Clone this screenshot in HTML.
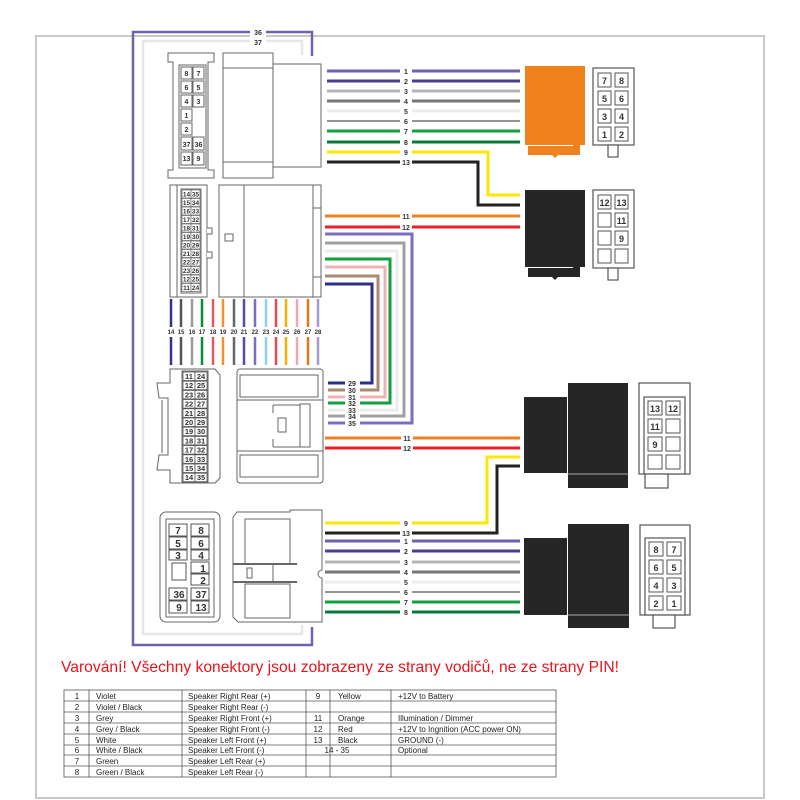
<!DOCTYPE html>
<html><head><meta charset="utf-8"><style>
html,body{margin:0;padding:0;background:#fff}
svg{display:block}
text{font-family:"Liberation Sans",Arial,sans-serif}
.n{font-size:7px;font-weight:bold;fill:#333;text-anchor:middle}
.c{font-size:7px;font-weight:bold;fill:#333;text-anchor:middle}
.p{font-size:9px;font-weight:bold;fill:#333;text-anchor:middle}
.t{font-size:8px;fill:#222}
</style></head><body>
<svg width="800" height="800" viewBox="0 0 800 800" xmlns="http://www.w3.org/2000/svg">
<rect x="36" y="36" width="728" height="762" fill="#fff" stroke="#c8c8c8" stroke-width="2"/>

<!-- outer loops 36/37 -->
<polyline points="312,56 312,32 133,32 133,645 312,645 312,627" fill="none" stroke="#6e62b0" stroke-width="2.5"/>
<polyline points="302,55 302,41 143,41 143,634 302,634 302,625" fill="none" stroke="#e6e6e6" stroke-width="2.5"/>
<rect x="250" y="26" width="16" height="20" fill="#fff"/>
<text x="258" y="35" class="n">36</text>
<text x="258" y="45" class="n">37</text>

<g fill="#fff" stroke="#666" stroke-width="1">
<path d="M168,53 H214 V62 H208 V170 H214 V178 H168 V170 H173 V62 H168 Z"/>
<rect x="179" y="65" width="27" height="103"/>
<rect x="223" y="53" width="50" height="125"/>
<line x1="223" y1="68" x2="273" y2="68"/><line x1="223" y1="162" x2="273" y2="162"/>
<rect x="273" y="64" width="48" height="103"/>
<rect x="170" y="185" width="37" height="112"/>
<line x1="177" y1="185" x2="177" y2="297"/>
<rect x="181" y="189" width="20" height="104"/>
<path d="M207,228 H212 V234 H207 M207,252 H212 V258 H207"/>
<rect x="219" y="185" width="102" height="112"/>
<line x1="244" y1="185" x2="244" y2="297"/>
<rect x="313" y="185" width="8" height="112"/>
<line x1="313" y1="208" x2="321" y2="208"/><line x1="313" y1="277" x2="321" y2="277"/>
<rect x="225" y="234" width="8" height="7"/>
<path d="M170,369 H215 L220,375 V478 L215,483 H170 V470 H157 L159,455 H168 V398 H159 L157,383 H170 Z"/>
<line x1="162" y1="400" x2="162" y2="453"/>
<rect x="182" y="371" width="26" height="111"/>
<rect x="237" y="369" width="86" height="114" rx="3"/>
<rect x="240" y="375" width="78" height="22"/>
<rect x="240" y="455" width="78" height="22"/>
<line x1="237" y1="400" x2="323" y2="400"/><line x1="237" y1="451" x2="323" y2="451"/>
<rect x="300" y="404" width="10" height="43"/>
<rect x="278" y="418" width="8" height="14"/>
<path d="M273,405 H300 M273,447 H300 M273,405 V413 M273,447 V439"/>
<rect x="160" y="512" width="60" height="110" rx="6"/>
<rect x="166" y="519" width="48" height="98"/>
<path d="M233,517 L237,512 H290 V510 H322 V570 A4,4 0 0 0 322,578 V622 H238 L233,617 Z"/>
<rect x="245" y="519" width="45" height="45"/>
<rect x="245" y="584" width="45" height="34"/>
<line x1="233" y1="564" x2="297" y2="564" stroke-width="2"/>
<line x1="233" y1="582" x2="297" y2="582" stroke-width="2"/>
<line x1="273" y1="564" x2="273" y2="582"/>
<rect x="247" y="568" width="5" height="10"/>
</g>

<g fill="#fff" stroke="#666" stroke-width="1">
<rect x="181" y="67" width="11" height="12"/><rect x="193" y="67" width="11" height="12"/>
<rect x="181" y="81" width="11" height="12"/><rect x="193" y="81" width="11" height="12"/>
<rect x="181" y="95" width="11" height="12"/><rect x="193" y="95" width="11" height="12"/>
<rect x="181" y="109" width="11" height="12"/>
<rect x="181" y="123" width="11" height="12"/>
<rect x="181" y="137" width="11" height="13"/><rect x="193" y="137" width="11" height="13"/>
<rect x="181" y="152" width="11" height="13"/><rect x="193" y="152" width="11" height="13"/>
</g>
<g class="c">
<text x="186.5" y="76" class="c">8</text><text x="198.5" y="76" class="c">7</text>
<text x="186.5" y="90" class="c">6</text><text x="198.5" y="90" class="c">5</text>
<text x="186.5" y="104" class="c">4</text><text x="198.5" y="104" class="c">3</text>
<text x="186.5" y="118" class="c">1</text>
<text x="186.5" y="132" class="c">2</text>
<text x="186.5" y="147" class="c">37</text><text x="198.5" y="147" class="c">36</text>
<text x="186.5" y="161" class="c">13</text><text x="198.5" y="161" class="c">9</text>
</g>

<g font-size="6.5" font-weight="bold" fill="#333" text-anchor="middle">
<g stroke="#666" fill="#fff" stroke-width="0.7">
<rect x="182" y="190" width="9" height="8"/><rect x="191" y="190" width="9" height="8"/>
<rect x="182" y="198.5" width="9" height="8"/><rect x="191" y="198.5" width="9" height="8"/>
<rect x="182" y="207" width="9" height="8"/><rect x="191" y="207" width="9" height="8"/>
<rect x="182" y="215.5" width="9" height="8"/><rect x="191" y="215.5" width="9" height="8"/>
<rect x="182" y="224" width="9" height="8"/><rect x="191" y="224" width="9" height="8"/>
<rect x="182" y="232.5" width="9" height="8"/><rect x="191" y="232.5" width="9" height="8"/>
<rect x="182" y="241" width="9" height="8"/><rect x="191" y="241" width="9" height="8"/>
<rect x="182" y="249.5" width="9" height="8"/><rect x="191" y="249.5" width="9" height="8"/>
<rect x="182" y="258" width="9" height="8"/><rect x="191" y="258" width="9" height="8"/>
<rect x="182" y="266.5" width="9" height="8"/><rect x="191" y="266.5" width="9" height="8"/>
<rect x="182" y="275" width="9" height="8"/><rect x="191" y="275" width="9" height="8"/>
<rect x="182" y="283.5" width="9" height="8"/><rect x="191" y="283.5" width="9" height="8"/>
</g>
<text x="186.5" y="196.5">14</text><text x="195.5" y="196.5">35</text>
<text x="186.5" y="205">15</text><text x="195.5" y="205">34</text>
<text x="186.5" y="213.5">16</text><text x="195.5" y="213.5">33</text>
<text x="186.5" y="222">17</text><text x="195.5" y="222">32</text>
<text x="186.5" y="230.5">18</text><text x="195.5" y="230.5">31</text>
<text x="186.5" y="239">19</text><text x="195.5" y="239">30</text>
<text x="186.5" y="247.5">20</text><text x="195.5" y="247.5">29</text>
<text x="186.5" y="256">21</text><text x="195.5" y="256">28</text>
<text x="186.5" y="264.5">22</text><text x="195.5" y="264.5">27</text>
<text x="186.5" y="273">23</text><text x="195.5" y="273">26</text>
<text x="186.5" y="281.5">12</text><text x="195.5" y="281.5">25</text>
<text x="186.5" y="290">11</text><text x="195.5" y="290">24</text>
</g>

<g font-size="7.5" font-weight="bold" fill="#333" text-anchor="middle">
<g stroke="#555" fill="#fff" stroke-width="0.8">
<rect x="183" y="372" width="12" height="8.5"/><rect x="195" y="372" width="12" height="8.5"/>
<rect x="183" y="381.2" width="12" height="8.5"/><rect x="195" y="381.2" width="12" height="8.5"/>
<rect x="183" y="390.4" width="12" height="8.5"/><rect x="195" y="390.4" width="12" height="8.5"/>
<rect x="183" y="399.6" width="12" height="8.5"/><rect x="195" y="399.6" width="12" height="8.5"/>
<rect x="183" y="408.8" width="12" height="8.5"/><rect x="195" y="408.8" width="12" height="8.5"/>
<rect x="183" y="418" width="12" height="8.5"/><rect x="195" y="418" width="12" height="8.5"/>
<rect x="183" y="427.2" width="12" height="8.5"/><rect x="195" y="427.2" width="12" height="8.5"/>
<rect x="183" y="436.4" width="12" height="8.5"/><rect x="195" y="436.4" width="12" height="8.5"/>
<rect x="183" y="445.6" width="12" height="8.5"/><rect x="195" y="445.6" width="12" height="8.5"/>
<rect x="183" y="454.8" width="12" height="8.5"/><rect x="195" y="454.8" width="12" height="8.5"/>
<rect x="183" y="464" width="12" height="8.5"/><rect x="195" y="464" width="12" height="8.5"/>
<rect x="183" y="473.2" width="12" height="8.5"/><rect x="195" y="473.2" width="12" height="8.5"/>
</g>
<text x="189" y="379">11</text><text x="201" y="379">24</text>
<text x="189" y="388.2">12</text><text x="201" y="388.2">25</text>
<text x="189" y="397.4">23</text><text x="201" y="397.4">26</text>
<text x="189" y="406.6">22</text><text x="201" y="406.6">27</text>
<text x="189" y="415.8">21</text><text x="201" y="415.8">28</text>
<text x="189" y="425">20</text><text x="201" y="425">29</text>
<text x="189" y="434.2">19</text><text x="201" y="434.2">30</text>
<text x="189" y="443.4">18</text><text x="201" y="443.4">31</text>
<text x="189" y="452.6">17</text><text x="201" y="452.6">32</text>
<text x="189" y="461.8">16</text><text x="201" y="461.8">33</text>
<text x="189" y="471">15</text><text x="201" y="471">34</text>
<text x="189" y="480.2">14</text><text x="201" y="480.2">35</text>
</g>

<g font-size="10" font-weight="bold" fill="#333" text-anchor="middle">
<g stroke="#555" fill="#fff" stroke-width="1">
<rect x="169" y="524" width="18" height="12"/><rect x="191" y="524" width="18" height="12"/>
<rect x="169" y="537" width="18" height="12"/><rect x="191" y="537" width="18" height="12"/>
<rect x="169" y="550" width="18" height="10"/><rect x="191" y="550" width="18" height="10"/>
<rect x="172" y="563" width="14" height="17"/><rect x="191" y="562" width="18" height="11"/>
<rect x="191" y="574" width="18" height="11"/>
<rect x="169" y="588" width="18" height="12"/><rect x="191" y="588" width="18" height="12"/>
<rect x="169" y="601" width="18" height="12"/><rect x="191" y="601" width="18" height="12"/>
</g>
<text x="178" y="534">7</text><text x="201" y="534">8</text>
<text x="178" y="547">5</text><text x="201" y="547">6</text>
<text x="178" y="559">3</text><text x="201" y="559">4</text>
<text x="203" y="572">1</text>
<text x="203" y="584">2</text>
<text x="179" y="598">36</text><text x="201" y="598">37</text>
<text x="179" y="611">9</text><text x="201" y="611">13</text>
</g>

<g stroke-width="3" fill="none">
<path d="M327,71H400M412,71H520" stroke="#6e62b0"/>
<path d="M327,81H400M412,81H520" stroke="#4a3f8c"/>
<path d="M327,91H400M412,91H520" stroke="#b4b4b4"/>
<path d="M327,101H400M412,101H520" stroke="#777"/>
<path d="M327,111H400M412,111H520" stroke="#ececec"/>
<path d="M327,121H400M412,121H520" stroke="#555" stroke-width="1.2"/>
<path d="M327,131H400M412,131H520" stroke="#13a03c"/>
<path d="M327,142H400M412,142H520" stroke="#0a7a3a"/>
<path d="M327,152H400M412,152H488V195H520" stroke="#ffe600"/>
<path d="M327,162H400M412,162H478V205H520" stroke="#222"/>
<path d="M325,216H400M412,216H520" stroke="#f08020"/>
<path d="M325,227H400M412,227H520" stroke="#e8202a"/>
<path d="M325,234H412V423H360" stroke="#7a6ec0"/>
<path d="M325,243H404V416H360" stroke="#a0a0a0"/>
<path d="M325,251H397V410H360" stroke="#ececec"/>
<path d="M325,259H390V403H360" stroke="#13a03c"/>
<path d="M325,267H385V397H360" stroke="#f4b0b8"/>
<path d="M325,276H378V390H360" stroke="#a88a70"/>
<path d="M325,284H372V383H360" stroke="#2d2d8a"/>
<path d="M328,383H345" stroke="#2d2d8a"/>
<path d="M328,390H345" stroke="#a88a70"/>
<path d="M328,397H345" stroke="#f4b0b8"/>
<path d="M328,403H345" stroke="#13a03c"/>
<path d="M328,410H345" stroke="#ececec"/>
<path d="M328,416H345" stroke="#a0a0a0"/>
<path d="M328,423H345" stroke="#7a6ec0"/>
<path d="M325,438H401M413,438H520" stroke="#f08020"/>
<path d="M325,448H401M413,448H520" stroke="#e8202a"/>
<path d="M325,523H400M412,523H487V457H520" stroke="#ffe600"/>
<path d="M325,533H400M412,533H497V466H520" stroke="#222"/>
<path d="M325,541H400M412,541H520" stroke="#6e62b0"/>
<path d="M325,551H400M412,551H520" stroke="#4a3f8c"/>
<path d="M325,562H400M412,562H520" stroke="#b4b4b4"/>
<path d="M325,572H400M412,572H520" stroke="#777"/>
<path d="M325,582H400M412,582H520" stroke="#ececec"/>
<path d="M325,592H400M412,592H520" stroke="#555" stroke-width="1.2"/>
<path d="M325,602H400M412,602H520" stroke="#13a03c"/>
<path d="M325,612H400M412,612H520" stroke="#0a7a3a"/>
</g>
<g class="n">
<text x="406" y="74">1</text><text x="406" y="84">2</text><text x="406" y="94">3</text><text x="406" y="104">4</text>
<text x="406" y="114">5</text><text x="406" y="124">6</text><text x="406" y="134">7</text><text x="406" y="145">8</text>
<text x="406" y="155">9</text><text x="406" y="165">13</text>
<text x="406" y="219">11</text><text x="406" y="230">12</text>
<text x="352" y="386">29</text><text x="352" y="393">30</text><text x="352" y="400">31</text><text x="352" y="406">32</text>
<text x="352" y="413">33</text><text x="352" y="419">34</text><text x="352" y="426">35</text>
<text x="407" y="441">11</text><text x="407" y="451">12</text>
<text x="406" y="526">9</text><text x="406" y="536">13</text><text x="406" y="544">1</text><text x="406" y="554">2</text>
<text x="406" y="565">3</text><text x="406" y="575">4</text><text x="406" y="585">5</text><text x="406" y="595">6</text>
<text x="406" y="605">7</text><text x="406" y="615">8</text>
</g>

<g stroke-width="2.5">
<path d="M171,299V327M171,337V365" stroke="#33338a"/>
<path d="M181,299V327M181,337V365" stroke="#555"/>
<path d="M192,299V327M192,337V365" stroke="#999"/>
<path d="M202,299V327M202,337V365" stroke="#0a8a3a"/>
<path d="M213,299V327M213,337V365" stroke="#e05a66"/>
<path d="M223,299V327M223,337V365" stroke="#f39030"/>
<path d="M234,299V327M234,337V365" stroke="#666"/>
<path d="M244,299V327M244,337V365" stroke="#5a4aa0"/>
<path d="M255,299V327M255,337V365" stroke="#7b6fb8"/>
<path d="M266,299V327M266,337V365" stroke="#8fd0ee"/>
<path d="M276,299V327M276,337V365" stroke="#e04a58"/>
<path d="M286,299V327M286,337V365" stroke="#f5b000"/>
<path d="M297,299V327M297,337V365" stroke="#f0a8b0"/>
<path d="M308,299V327M308,337V365" stroke="#e07a10"/>
<path d="M318,299V327M318,337V365" stroke="#a89ad0"/>
</g>
<g font-size="6" fill="#333" text-anchor="middle" font-weight="bold">
<text x="171" y="334">14</text><text x="181" y="334">15</text><text x="192" y="334">16</text><text x="202" y="334">17</text>
<text x="213" y="334">18</text><text x="223" y="334">19</text><text x="234" y="334">20</text><text x="244" y="334">21</text>
<text x="255" y="334">22</text><text x="266" y="334">23</text><text x="276" y="334">24</text><text x="286" y="334">25</text>
<text x="297" y="334">26</text><text x="308" y="334">27</text><text x="318" y="334">28</text>
</g>

<rect x="525" y="66" width="60" height="79" fill="#f0821e"/>
<path d="M528,146H573V142H580V155H558L555,158L552,155H528Z" fill="#f0821e"/>
<rect x="525" y="190" width="60" height="77" fill="#262626"/>
<path d="M528,268H573V264H580V277H558L555,280L552,277H528Z" fill="#262626"/>
<rect x="524" y="397" width="43" height="76" fill="#262626"/>
<rect x="568" y="383" width="60" height="105" fill="#262626"/>
<line x1="568" y1="474" x2="628" y2="474" stroke="#aaa" stroke-width="1"/>
<rect x="524" y="538" width="43" height="77" fill="#262626"/>
<rect x="568" y="524" width="61" height="104" fill="#262626"/>
<line x1="568" y1="615" x2="629" y2="615" stroke="#aaa" stroke-width="1"/>

<g fill="#fff" stroke="#555" stroke-width="1.2">
<rect x="593" y="68" width="41" height="77"/>
<rect x="608" y="145" width="10" height="12"/>
<rect x="593" y="190" width="41" height="78"/>
<rect x="608" y="268" width="10" height="12"/>
<rect x="639" y="383" width="51" height="91"/>
<rect x="644" y="397" width="41" height="77"/>
<rect x="645" y="474" width="23" height="14"/>
<rect x="640" y="525" width="50" height="90"/>
<rect x="645" y="538" width="40" height="77"/>
<rect x="653" y="615" width="22" height="13"/>
</g>
<g fill="#fff" stroke="#555" stroke-width="1">
<rect x="598" y="73" width="13" height="14"/><rect x="615" y="73" width="13" height="14"/>
<rect x="598" y="91" width="13" height="14"/><rect x="615" y="91" width="13" height="14"/>
<rect x="598" y="109" width="13" height="14"/><rect x="615" y="109" width="13" height="14"/>
<rect x="598" y="127" width="13" height="14"/><rect x="615" y="127" width="13" height="14"/>
<rect x="598" y="195" width="13" height="14"/><rect x="615" y="195" width="13" height="14"/>
<rect x="598" y="213" width="13" height="14"/><rect x="615" y="213" width="13" height="14"/>
<rect x="598" y="231" width="13" height="14"/><rect x="615" y="231" width="13" height="14"/>
<rect x="598" y="249" width="13" height="14"/><rect x="615" y="249" width="13" height="14"/>
<rect x="648" y="401" width="14" height="14"/><rect x="666" y="401" width="14" height="14"/>
<rect x="648" y="419" width="14" height="14"/><rect x="666" y="419" width="14" height="14"/>
<rect x="648" y="437" width="14" height="14"/><rect x="666" y="437" width="14" height="14"/>
<rect x="648" y="455" width="14" height="14"/><rect x="666" y="455" width="14" height="14"/>
<rect x="649" y="542" width="14" height="14"/><rect x="667" y="542" width="14" height="14"/>
<rect x="649" y="560" width="14" height="14"/><rect x="667" y="560" width="14" height="14"/>
<rect x="649" y="578" width="14" height="14"/><rect x="667" y="578" width="14" height="14"/>
<rect x="649" y="596" width="14" height="14"/><rect x="667" y="596" width="14" height="14"/>
</g>
<g class="p">
<text x="604.5" y="84">7</text><text x="621.5" y="84">8</text>
<text x="604.5" y="102">5</text><text x="621.5" y="102">6</text>
<text x="604.5" y="120">3</text><text x="621.5" y="120">4</text>
<text x="604.5" y="138">1</text><text x="621.5" y="138">2</text>
<text x="604.5" y="206">12</text><text x="621.5" y="206">13</text>
<text x="621.5" y="224">11</text><text x="621.5" y="242">9</text>
<text x="655" y="412">13</text><text x="673" y="412">12</text>
<text x="655" y="430">11</text><text x="655" y="448">9</text>
<text x="656" y="553">8</text><text x="674" y="553">7</text>
<text x="656" y="571">6</text><text x="674" y="571">5</text>
<text x="656" y="589">4</text><text x="674" y="589">3</text>
<text x="656" y="607">2</text><text x="674" y="607">1</text>
</g>

<text x="61" y="672" font-size="16" fill="#e8141c" textLength="558" lengthAdjust="spacingAndGlyphs">Varování! Všechny konektory jsou zobrazeny ze strany vodičů, ne ze strany PIN!</text>

<g stroke="#555" stroke-width="0.8" fill="none">
<rect x="64" y="690" width="492" height="87"/>
<line x1="64" y1="701" x2="556" y2="701"/><line x1="64" y1="712" x2="556" y2="712"/>
<line x1="64" y1="723" x2="556" y2="723"/><line x1="64" y1="734" x2="556" y2="734"/>
<line x1="64" y1="745" x2="556" y2="745"/><line x1="64" y1="755" x2="556" y2="755"/>
<line x1="64" y1="766" x2="556" y2="766"/>
<line x1="89" y1="690" x2="89" y2="777"/><line x1="182" y1="690" x2="182" y2="777"/>
<line x1="306" y1="690" x2="306" y2="777"/><line x1="330" y1="690" x2="330" y2="777"/>
<line x1="391" y1="690" x2="391" y2="777"/>
</g>
<g class="t">
<text x="77" y="699" text-anchor="middle">1</text><text x="96" y="699">Violet</text><text x="188" y="699">Speaker Right Rear (+)</text><text x="318" y="699" text-anchor="middle">9</text><text x="338" y="699">Yellow</text><text x="398" y="699">+12V to Battery</text>
<text x="77" y="710" text-anchor="middle">2</text><text x="96" y="710">Violet / Black</text><text x="188" y="710">Speaker Right Rear (-)</text>
<text x="77" y="721" text-anchor="middle">3</text><text x="96" y="721">Grey</text><text x="188" y="721">Speaker Right Front (+)</text><text x="318" y="721" text-anchor="middle">11</text><text x="338" y="721">Orange</text><text x="398" y="721">Illumination / Dimmer</text>
<text x="77" y="732" text-anchor="middle">4</text><text x="96" y="732">Grey / Black</text><text x="188" y="732">Speaker Right Front (-)</text><text x="318" y="732" text-anchor="middle">12</text><text x="338" y="732">Red</text><text x="398" y="732">+12V to Ingnition (ACC power ON)</text>
<text x="77" y="743" text-anchor="middle">5</text><text x="96" y="743">White</text><text x="188" y="743">Speaker Left Front (+)</text><text x="318" y="743" text-anchor="middle">13</text><text x="338" y="743">Black</text><text x="398" y="743">GROUND (-)</text>
<text x="77" y="753" text-anchor="middle">6</text><text x="96" y="753">White / Black</text><text x="188" y="753">Speaker Left Front (-)</text><text x="337" y="753" text-anchor="middle">14 - 35</text><text x="398" y="753">Optional</text>
<text x="77" y="764" text-anchor="middle">7</text><text x="96" y="764">Green</text><text x="188" y="764">Speaker Left Rear (+)</text>
<text x="77" y="775" text-anchor="middle">8</text><text x="96" y="775">Green / Black</text><text x="188" y="775">Speaker Left Rear (-)</text>
</g>
</svg>
</body></html>
